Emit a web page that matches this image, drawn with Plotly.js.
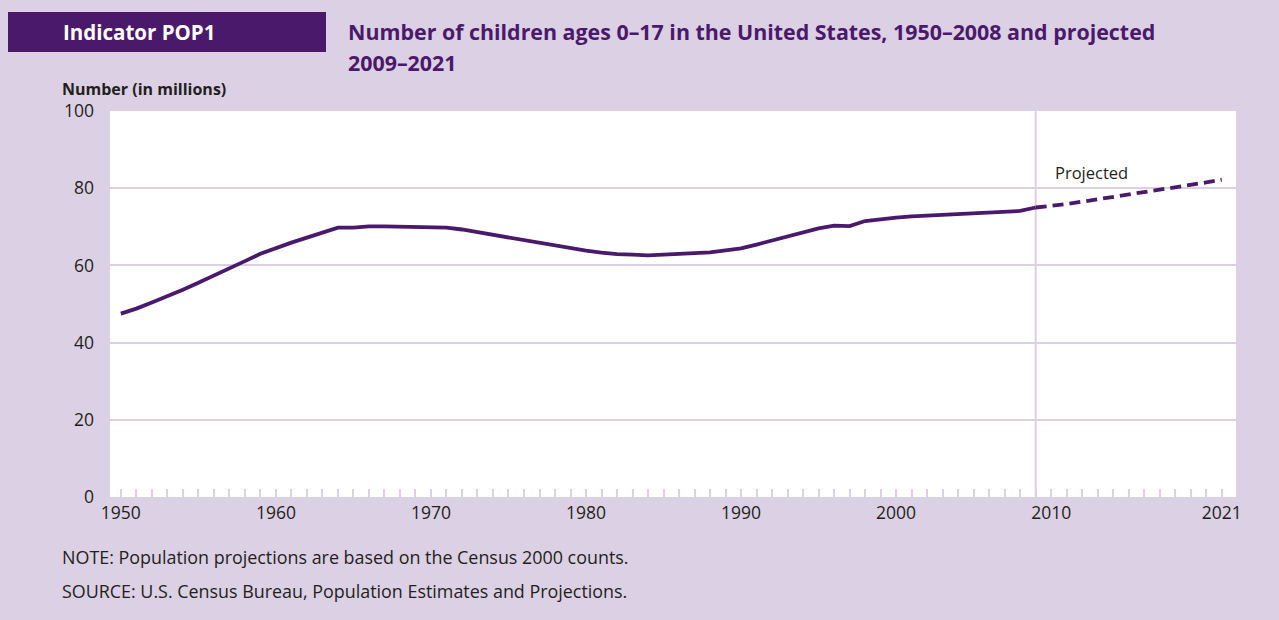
<!DOCTYPE html>
<html>
<head>
<meta charset="utf-8">
<script src="https://cdn.plot.ly/plotly-3.0.1.min.js"></script>
<style>
  html, body { margin: 0; padding: 0; background: #dcd0e4; }
  #chart { width: 1279px; height: 620px; }
</style>
</head>
<body>
<div id="chart"></div>
<script>
// ---- Data (millions of children ages 0-17) ----
const histYears = [1950,1951,1952,1953,1954,1955,1956,1957,1958,1959,
                   1960,1961,1962,1963,1964,1965,1966,1967,1968,1969,
                   1970,1971,1972,1973,1974,1975,1976,1977,1978,1979,
                   1980,1981,1982,1983,1984,1985,1986,1987,1988,1989,
                   1990,1991,1992,1993,1994,1995,1996,1997,1998,1999,
                   2000,2001,2002,2003,2004,2005,2006,2007,2008];
const histValues = [47.5,48.8,50.4,52.0,53.7,55.5,57.3,59.3,61.1,63.0,
                    64.5,65.9,67.2,68.5,69.8,69.8,70.1,70.1,70.0,69.9,
                    69.9,69.8,69.3,68.6,67.9,67.2,66.5,65.8,65.0,64.3,
                    63.8,63.3,62.9,62.8,62.6,62.8,63.0,63.3,63.4,63.9,
                    64.4,65.4,66.5,67.6,68.7,69.6,70.3,70.2,71.5,72.0,
                    72.4,72.7,72.9,73.1,73.3,73.5,73.7,74.1,74.1];
const projYears = [2009,2010,2011,2012,2013,2014,2015,2016,2017,2018,2019,2020,2021];
const projValues = [75.0,75.4,75.9,76.5,77.1,77.7,78.3,78.9,79.6,80.2,80.9,81.5,82.2];

const xLabelYears = [1950,1960,1970,1980,1990,2000,2010,2021];
const xLabelText  = ["1950","1960","1970","1980","1990","2000","2010","2021"];
const yTickVals   = [0,20,40,60,80,100];
const yTickText   = ["0","20","40","60","80","100"];

const headerLabel = "Indicator POP1";
const titleLine1 = "Number of children ages 0\u201317 in the United States, 1950\u20132008 and projected";
const titleLine2 = "2009\u20132021";
const yAxisLabel = "Number (in millions)";
const noteText = "NOTE: Population projections are based on the Census 2000 counts.";
const sourceText = "SOURCE: U.S. Census Bureau, Population Estimates and Projections.";
const projLabel = "Projected";

// ---- Styling / geometry ----
const PURPLE = "#4b196b";
const LAV = "#dcd0e4";
const TXT = "#231f20";
const FONT = "'Open Sans', Lato, sans-serif";
const W = 1279, H = 620;
const L = 110, R = 43, T = 111, B = 123;
const PW = W - L - R, PH = H - T - B;
const px = x => (x - L) / PW;
const py = y => (H - B - y) / PH;

// minor ticks: every year; labels only for the chosen years
const allYears = [];
for (let y = histYears[0]; y <= projYears[projYears.length - 1]; y++) allYears.push(y);
const tickText = allYears.map(y => {
  const i = xLabelYears.indexOf(y);
  return i >= 0 ? xLabelText[i] : "";
});

const traces = [
  {
    x: histYears.concat([projYears[0]]),
    y: histValues.concat([projValues[0]]),
    type: "scatter", mode: "lines",
    line: { color: PURPLE, width: 3.8 },
    hoverinfo: "x+y"
  },
  {
    x: projYears, y: projValues,
    type: "scatter", mode: "lines",
    line: { color: PURPLE, width: 3.8, dash: "11px,6px" },
    hoverinfo: "x+y"
  }
];

const layout = {
  width: W, height: H,
  margin: { l: L, r: R, t: T, b: B, pad: 0 },
  paper_bgcolor: LAV,
  plot_bgcolor: "#ffffff",
  showlegend: false,
  font: { family: FONT, color: TXT },
  xaxis: {
    range: [1949.3, 2021.92],
    tickmode: "array",
    tickvals: allYears,
    ticktext: tickText,
    ticks: "inside",
    ticklen: 8,
    tickwidth: 2,
    tickcolor: LAV,
    showgrid: false,
    zeroline: false,
    showline: false,
    tickfont: { family: FONT, size: 17.5, color: TXT },
    ticklabelstandoff: 3,
    fixedrange: true
  },
  yaxis: {
    range: [0, 100],
    tickmode: "array",
    tickvals: yTickVals,
    ticktext: yTickText,
    ticks: "",
    showgrid: true,
    gridcolor: LAV,
    gridwidth: 2,
    zeroline: false,
    showline: false,
    tickfont: { family: FONT, size: 17.5, color: TXT },
    ticklabelstandoff: 15,
    fixedrange: true
  },
  shapes: [
    { type: "rect", xref: "paper", yref: "paper",
      x0: px(8), x1: px(326), y0: py(52), y1: py(12),
      fillcolor: PURPLE, line: { width: 0 }, layer: "below" },
    { type: "line", xref: "x", yref: "paper",
      x0: projYears[0], x1: projYears[0], y0: 0, y1: 1,
      line: { color: LAV, width: 2 }, layer: "below" }
  ],
  annotations: [
    { text: "<b>" + headerLabel + "</b>", xref: "paper", yref: "paper",
      x: px(61), y: py(32), xanchor: "left", yanchor: "middle", showarrow: false,
      font: { family: FONT, size: 20.5, color: "#ffffff" } },
    { text: "<b>" + titleLine1 + "</b>", xref: "paper", yref: "paper",
      x: px(346), y: py(32), xanchor: "left", yanchor: "middle", showarrow: false,
      font: { family: FONT, size: 21.4, color: PURPLE } },
    { text: "<b>" + titleLine2 + "</b>", xref: "paper", yref: "paper",
      x: px(346), y: py(62), xanchor: "left", yanchor: "middle", showarrow: false,
      font: { family: FONT, size: 21.4, color: PURPLE } },
    { text: "<b>" + yAxisLabel + "</b>", xref: "paper", yref: "paper",
      x: px(60), y: py(89), xanchor: "left", yanchor: "middle", showarrow: false,
      font: { family: FONT, size: 16, color: TXT } },
    { text: projLabel, xref: "x", yref: "paper",
      x: 2012.6, y: py(172), xanchor: "center", yanchor: "middle", showarrow: false,
      font: { family: FONT, size: 16.5, color: TXT } },
    { text: noteText, xref: "paper", yref: "paper",
      x: px(60), y: py(557), xanchor: "left", yanchor: "middle", showarrow: false,
      font: { family: FONT, size: 17.9, color: TXT } },
    { text: sourceText, xref: "paper", yref: "paper",
      x: px(60), y: py(591), xanchor: "left", yanchor: "middle", showarrow: false,
      font: { family: FONT, size: 17.9, color: TXT } }
  ]
};

Plotly.newPlot("chart", traces, layout, { displayModeBar: false, staticPlot: true });
</script>
</body>
</html>
